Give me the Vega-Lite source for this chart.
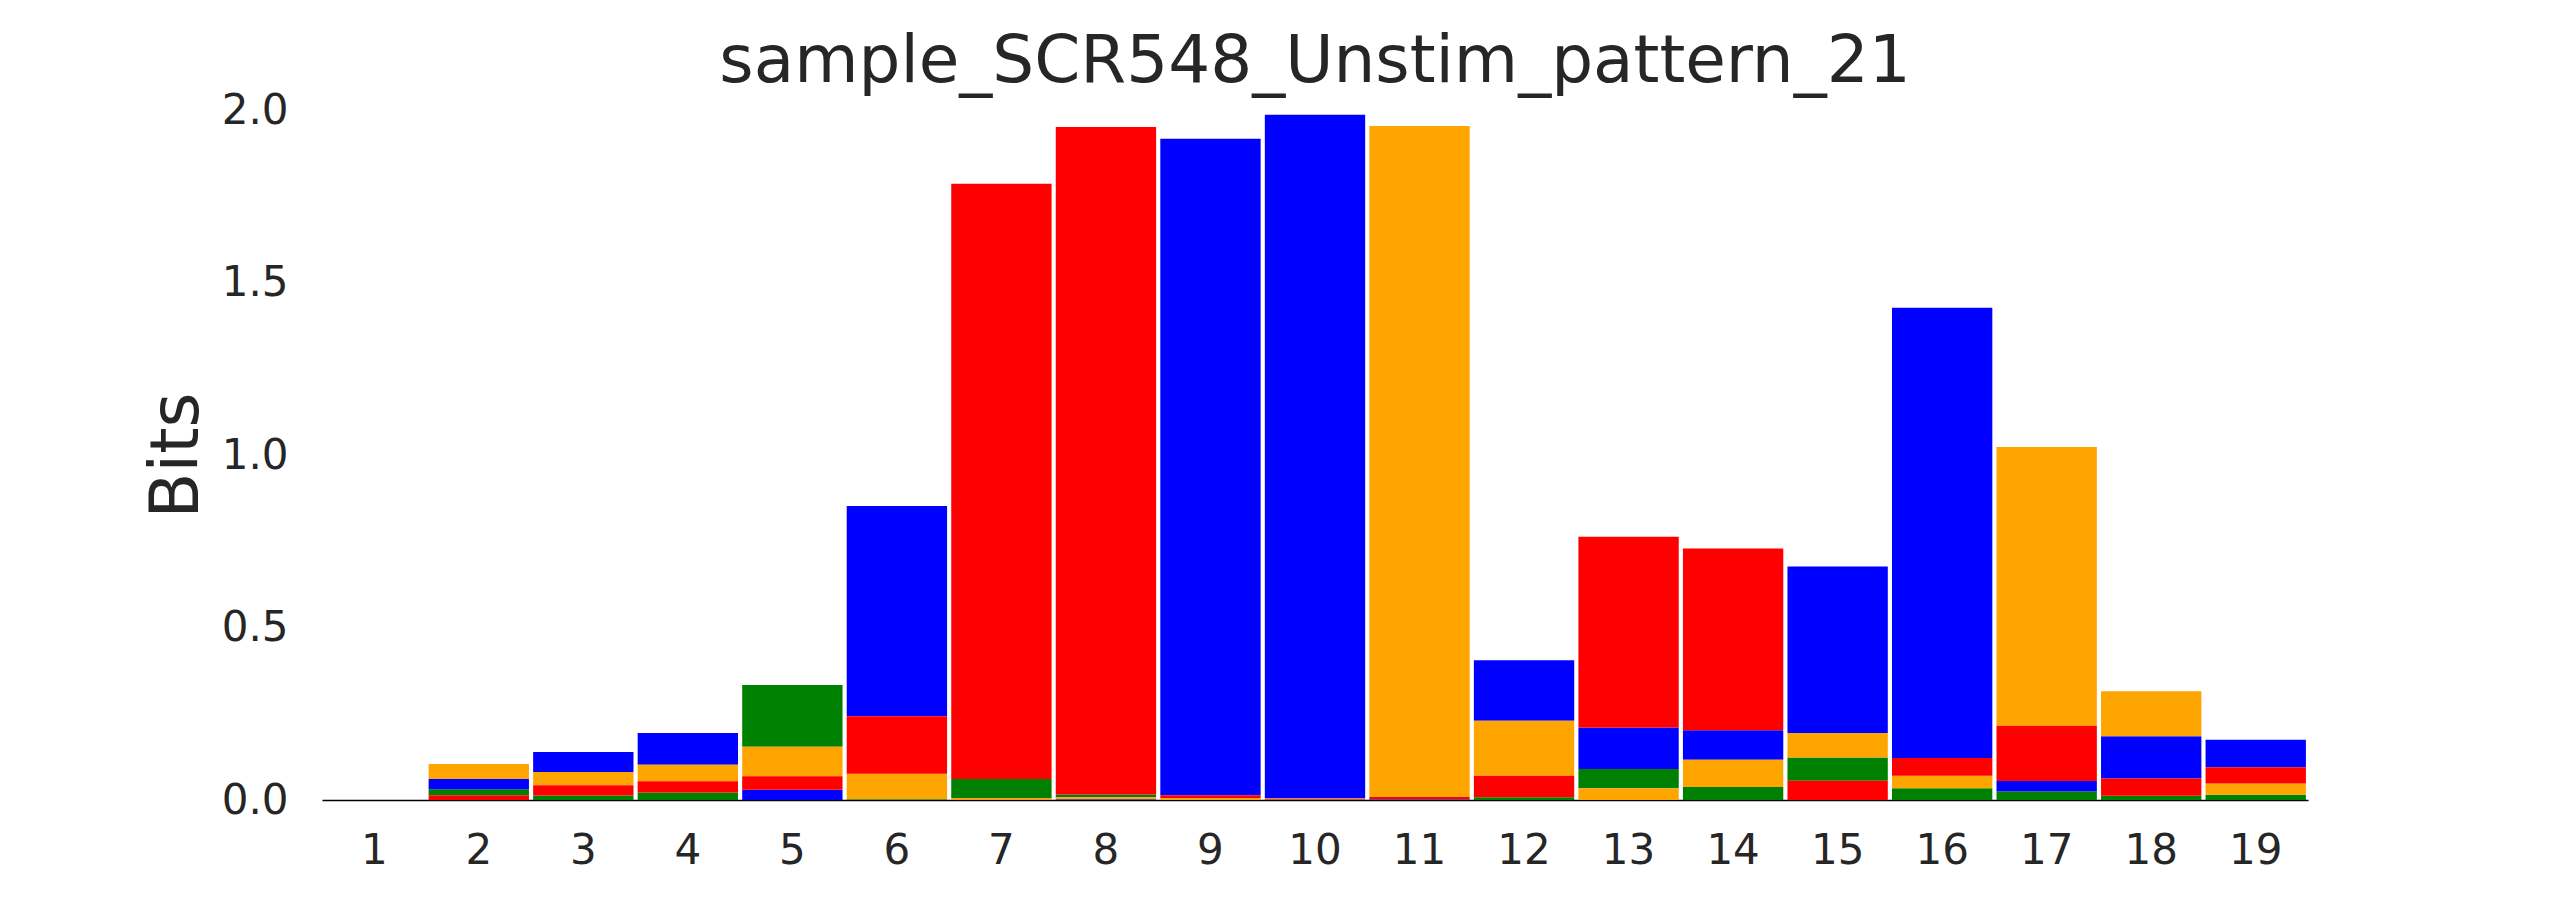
{
  "$schema": "https://vega.github.io/schema/vega-lite/v6.json",
  "width": 1986,
  "height": 690,
  "autosize": {"type": "none"},
  "padding": {"left": 322, "top": 110, "right": 257, "bottom": 100},
  "background": "white",
  "config": {
    "view": {"stroke": null},
    "font": "DejaVu Sans",
    "axis": {"labelFont": "DejaVu Sans", "titleFont": "DejaVu Sans", "labelColor": "#262626", "titleColor": "#262626", "grid": false}
  },
  "title": {
    "text": "sample_SCR548_Unstim_pattern_21",
    "fontSize": 66,
    "font": "DejaVu Sans",
    "fontWeight": "normal",
    "color": "#262626",
    "anchor": "middle",
    "frame": "group",
    "baseline": "alphabetic",
    "offset": -59
  },
  "data": {
    "values": [
      {"pos": 2, "base": "A", "bits": 0.017}, {"pos": 2, "base": "C", "bits": 0.03}, {"pos": 2, "base": "G", "bits": 0.043}, {"pos": 2, "base": "T", "bits": 0.014},
      {"pos": 3, "base": "A", "bits": 0.013}, {"pos": 3, "base": "C", "bits": 0.058}, {"pos": 3, "base": "G", "bits": 0.038}, {"pos": 3, "base": "T", "bits": 0.03},
      {"pos": 4, "base": "A", "bits": 0.022}, {"pos": 4, "base": "C", "bits": 0.092}, {"pos": 4, "base": "G", "bits": 0.048}, {"pos": 4, "base": "T", "bits": 0.032},
      {"pos": 5, "base": "A", "bits": 0.179}, {"pos": 5, "base": "C", "bits": 0.03}, {"pos": 5, "base": "G", "bits": 0.085}, {"pos": 5, "base": "T", "bits": 0.039},
      {"pos": 6, "base": "A", "bits": 0.002}, {"pos": 6, "base": "C", "bits": 0.609}, {"pos": 6, "base": "G", "bits": 0.074}, {"pos": 6, "base": "T", "bits": 0.167},
      {"pos": 7, "base": "A", "bits": 0.055}, {"pos": 7, "base": "C", "bits": 0.001}, {"pos": 7, "base": "G", "bits": 0.005}, {"pos": 7, "base": "T", "bits": 1.725},
      {"pos": 8, "base": "A", "bits": 0.008}, {"pos": 8, "base": "C", "bits": 0.002}, {"pos": 8, "base": "G", "bits": 0.006}, {"pos": 8, "base": "T", "bits": 1.935},
      {"pos": 9, "base": "A", "bits": 0.001}, {"pos": 9, "base": "C", "bits": 1.903}, {"pos": 9, "base": "G", "bits": 0.005}, {"pos": 9, "base": "T", "bits": 0.008},
      {"pos": 10, "base": "A", "bits": 0.001}, {"pos": 10, "base": "C", "bits": 1.982}, {"pos": 10, "base": "G", "bits": 0.002}, {"pos": 10, "base": "T", "bits": 0.0015},
      {"pos": 11, "base": "A", "bits": 0.001}, {"pos": 11, "base": "C", "bits": 0.0015}, {"pos": 11, "base": "G", "bits": 1.945}, {"pos": 11, "base": "T", "bits": 0.006},
      {"pos": 12, "base": "A", "bits": 0.008}, {"pos": 12, "base": "C", "bits": 0.175}, {"pos": 12, "base": "G", "bits": 0.16}, {"pos": 12, "base": "T", "bits": 0.062},
      {"pos": 13, "base": "A", "bits": 0.056}, {"pos": 13, "base": "C", "bits": 0.12}, {"pos": 13, "base": "G", "bits": 0.034}, {"pos": 13, "base": "T", "bits": 0.553},
      {"pos": 14, "base": "A", "bits": 0.038}, {"pos": 14, "base": "C", "bits": 0.085}, {"pos": 14, "base": "G", "bits": 0.079}, {"pos": 14, "base": "T", "bits": 0.527},
      {"pos": 15, "base": "A", "bits": 0.067}, {"pos": 15, "base": "C", "bits": 0.483}, {"pos": 15, "base": "G", "bits": 0.071}, {"pos": 15, "base": "T", "bits": 0.056},
      {"pos": 16, "base": "A", "bits": 0.034}, {"pos": 16, "base": "C", "bits": 1.305}, {"pos": 16, "base": "G", "bits": 0.036}, {"pos": 16, "base": "T", "bits": 0.052},
      {"pos": 17, "base": "A", "bits": 0.025}, {"pos": 17, "base": "C", "bits": 0.03}, {"pos": 17, "base": "G", "bits": 0.808}, {"pos": 17, "base": "T", "bits": 0.16},
      {"pos": 18, "base": "A", "bits": 0.012}, {"pos": 18, "base": "C", "bits": 0.123}, {"pos": 18, "base": "G", "bits": 0.13}, {"pos": 18, "base": "T", "bits": 0.05},
      {"pos": 19, "base": "A", "bits": 0.015}, {"pos": 19, "base": "C", "bits": 0.08}, {"pos": 19, "base": "G", "bits": 0.033}, {"pos": 19, "base": "T", "bits": 0.047}
    ]
  },
  "mark": {"type": "bar"},
  "encoding": {
    "x": {
      "field": "pos",
      "type": "ordinal",
      "scale": {"domain": [1, 2, 3, 4, 5, 6, 7, 8, 9, 10, 11, 12, 13, 14, 15, 16, 17, 18, 19], "paddingInner": 0.04, "paddingOuter": 0.02},
      "axis": {
        "title": null,
        "labelAngle": 0,
        "labelFontSize": 42,
        "labelPadding": 30,
        "ticks": false,
        "domain": true,
        "domainColor": "black",
        "domainWidth": 1.5
      }
    },
    "y": {
      "field": "bits",
      "type": "quantitative",
      "aggregate": "sum",
      "stack": "zero",
      "scale": {"domain": [0, 2], "nice": false},
      "axis": {
        "title": "Bits",
        "titleFontSize": 67,
        "titleFontWeight": "normal",
        "titlePadding": 10,
        "labelFontSize": 42,
        "labelPadding": 34,
        "values": [0, 0.5, 1, 1.5, 2],
        "format": ".1f",
        "ticks": false,
        "domain": false
      }
    },
    "color": {
      "field": "base",
      "type": "nominal",
      "scale": {"domain": ["A", "C", "G", "T"], "range": ["#008000", "#0000ff", "#ffa500", "#ff0000"]},
      "legend": null
    },
    "order": {"field": "bits", "aggregate": "sum", "sort": "ascending"}
  }
}
